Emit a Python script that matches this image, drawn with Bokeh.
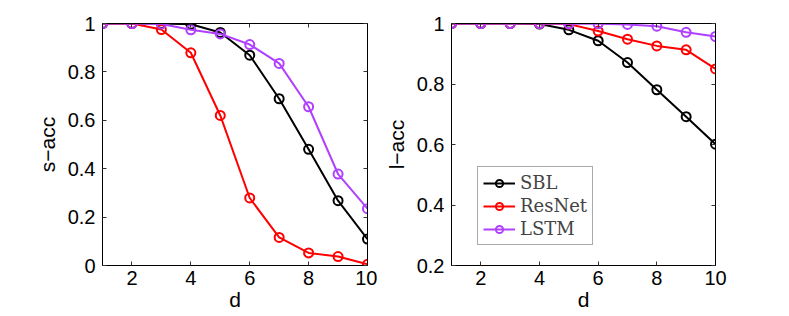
from bokeh.plotting import figure
from bokeh.layouts import row
from bokeh.models import FixedTicker, LinearAxis, CustomJSTickFormatter, Legend, LegendItem, Range1d
from bokeh.embed import file_html
from bokeh.resources import INLINE

d = [1, 2, 3, 4, 5, 6, 7, 8, 9, 10]

s_sbl = [1.0, 1.0, 1.0, 0.997, 0.963, 0.869, 0.689, 0.480, 0.268, 0.109]
s_resnet = [1.0, 1.0, 0.975, 0.879, 0.620, 0.279, 0.116, 0.052, 0.037, 0.005]
s_lstm = [1.0, 1.0, 0.998, 0.974, 0.957, 0.913, 0.835, 0.656, 0.378, 0.235]

l_sbl = [1.0, 1.0, 1.0, 0.998, 0.979, 0.943, 0.871, 0.781, 0.692, 0.601]
l_resnet = [1.0, 1.0, 1.0, 1.0, 0.998, 0.975, 0.948, 0.926, 0.913, 0.850]
l_lstm = [1.0, 1.0, 1.0, 1.0, 0.999, 0.999, 0.997, 0.991, 0.971, 0.957]

x_ticks = [2, 4, 6, 8, 10]
s_ticks = [0, 0.2, 0.4, 0.6, 0.8, 1.0]
l_ticks = [0.2, 0.4, 0.6, 0.8, 1.0]

names = ["SBL", "ResNet", "LSTM"]
colors = ["#000000", "#ff0000", "#b040ff"]

FONT = "Liberation Sans"
fmt = CustomJSTickFormatter(code="return String(Math.round(tick*10)/10);")
blank = CustomJSTickFormatter(code="return '';")


def style_axis(ax, labels=True):
    ax.major_tick_in = 4
    ax.major_tick_out = 0
    ax.minor_tick_in = 0
    ax.minor_tick_out = 0
    ax.axis_line_color = "#000000"
    ax.major_tick_line_color = "#333333"
    ax.major_label_text_font = FONT
    ax.major_label_text_font_size = "20px"
    ax.major_label_text_color = "#000000"
    ax.axis_label_text_font = FONT
    ax.axis_label_text_font_size = "21px"
    ax.axis_label_text_font_style = "normal"
    ax.axis_label_text_color = "#000000"
    if not labels:
        ax.formatter = blank
        ax.major_label_standoff = 0


def make_fig(ys, yticks, ylo, ylabel, left_border, right_border, frame_w, top_border, legend=False):
    p = figure(frame_width=frame_w, frame_height=242,
               x_range=Range1d(1, 10), y_range=Range1d(ylo, 1),
               output_backend="svg", toolbar_location=None,
               min_border_left=left_border, min_border_right=right_border,
               min_border_top=top_border, min_border_bottom=44)
    p.grid.visible = False
    p.outline_line_color = "#000000"
    p.background_fill_color = "#ffffff"
    p.border_fill_color = "#ffffff"
    p.xaxis.ticker = FixedTicker(ticks=x_ticks)
    p.yaxis.ticker = FixedTicker(ticks=yticks)
    p.yaxis.formatter = fmt
    p.xaxis.axis_label = "d"
    p.yaxis.axis_label = ylabel
    for ax in p.xaxis + p.yaxis:
        style_axis(ax)
    p.xaxis.major_label_standoff = 5
    p.xaxis.axis_label_standoff = 0
    p.yaxis.major_label_standoff = 7
    p.yaxis.axis_label_standoff = 6
    ra = LinearAxis(ticker=FixedTicker(ticks=yticks))
    style_axis(ra, labels=False)
    p.add_layout(ra, "right")
    ta = LinearAxis(ticker=FixedTicker(ticks=x_ticks))
    style_axis(ta, labels=False)
    p.add_layout(ta, "above")
    items = []
    for y, n, c in zip(ys, names, colors):
        ln = p.line(d, y, line_color=c, line_width=2)
        sc = p.scatter(d, y, marker="circle", size=9, line_color=c, line_width=2,
                       fill_color=None)
        items.append(LegendItem(label=n, renderers=[ln, sc]))
    if legend:
        lg = Legend(items=items, location=(26, 20), glyph_width=32, glyph_height=18,
                    label_text_font="DejaVu Serif", label_text_font_size="18px",
                    label_height=18, spacing=2, padding=5, margin=0,
                    border_line_color="#555555", border_line_width=1,
                    label_standoff=5, background_fill_alpha=1.0)
        p.add_layout(lg, "center")
    return p


p1 = make_fig([s_sbl, s_resnet, s_lstm], s_ticks, 0, "s\u2212acc", 102, 10, 265, 23)
p2 = make_fig([l_sbl, l_resnet, l_lstm], l_ticks, 0.2, "l\u2212acc", 74, 20, 264, 23, legend=True)

layout = row(p1, p2)
open("out.html", "w").write(file_html(layout, INLINE))
